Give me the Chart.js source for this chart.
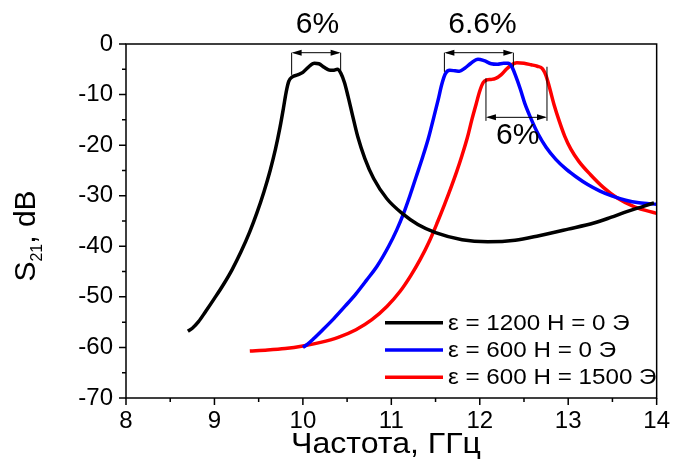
<!DOCTYPE html>
<html><head><meta charset="utf-8">
<script src="https://cdn.jsdelivr.net/npm/chart.js@4.4.1/dist/chart.umd.min.js"></script>
<style>html,body{margin:0;padding:0;background:#fff;}canvas{display:block;}</style>
</head><body>
<canvas id="c" width="679" height="459" style="width:679px;height:459px"></canvas>
<script>
// ---- data (frequency, GHz / S21, dB) ----
const blackX = [8.70, 8.75, 8.82, 8.90, 9.00, 9.10, 9.20, 9.30, 9.40, 9.48, 9.56, 9.63, 9.69, 9.74, 9.78, 9.81, 9.84, 9.88, 9.94, 10.00, 10.06, 10.13, 10.18, 10.24, 10.29, 10.34, 10.39, 10.43, 10.47, 10.51, 10.56, 10.62, 10.70, 10.80, 10.95, 11.13, 11.30, 11.50, 11.80, 12.09, 12.40, 12.67, 13.00, 13.29, 13.48, 13.67, 13.85, 13.97];
const blackY = [-56.8, -56.2, -54.9, -52.9, -50.3, -47.6, -44.6, -41.1, -37.1, -33.4, -29.2, -25.0, -20.8, -16.6, -12.7, -9.6, -7.4, -6.5, -6.1, -5.6, -4.6, -3.8, -3.9, -4.6, -5.1, -5.2, -5.0, -5.8, -7.6, -10.3, -14.0, -18.3, -22.6, -26.6, -30.6, -33.6, -35.7, -37.3, -38.7, -39.1, -38.8, -37.9, -36.6, -35.4, -34.3, -33.1, -32.1, -31.4];

const blueX = [10.00, 10.05, 10.12, 10.22, 10.35, 10.48, 10.60, 10.72, 10.84, 10.97, 11.06, 11.13, 11.21, 11.28, 11.35, 11.42, 11.48, 11.53, 11.57, 11.61, 11.66, 11.72, 11.77, 11.83, 11.90, 11.98, 12.05, 12.13, 12.20, 12.27, 12.32, 12.36, 12.41, 12.46, 12.51, 12.58, 12.66, 12.75, 12.86, 12.98, 13.10, 13.22, 13.36, 13.50, 13.65, 13.80, 14.00];
const blueY = [-60.0, -59.4, -58.3, -56.6, -54.3, -51.8, -49.4, -46.7, -43.9, -40.0, -36.8, -33.9, -30.0, -26.3, -22.6, -18.6, -14.5, -11.0, -8.0, -5.9, -5.2, -5.3, -5.4, -4.8, -3.8, -3.0, -3.3, -3.9, -4.0, -3.8, -3.8, -4.4, -6.5, -9.0, -11.8, -14.8, -17.8, -20.4, -22.8, -24.8, -26.4, -27.8, -29.1, -30.1, -30.9, -31.4, -31.7];

const redX = [9.40, 9.60, 9.80, 10.00, 10.20, 10.40, 10.60, 10.78, 10.95, 11.10, 11.22, 11.33, 11.43, 11.52, 11.60, 11.67, 11.74, 11.80, 11.86, 11.91, 11.96, 12.00, 12.04, 12.08, 12.13, 12.18, 12.24, 12.30, 12.36, 12.42, 12.50, 12.58, 12.65, 12.71, 12.75, 12.79, 12.84, 12.90, 12.96, 13.03, 13.12, 13.25, 13.40, 13.55, 13.75, 14.00];
const redY = [-60.7, -60.5, -60.2, -59.7, -59.0, -58.0, -56.5, -54.5, -51.9, -48.9, -45.8, -42.5, -39.0, -35.3, -31.8, -28.6, -25.2, -22.0, -18.5, -15.0, -11.8, -9.3, -7.6, -7.1, -7.0, -6.8, -6.1, -5.0, -4.1, -3.7, -3.8, -4.1, -4.4, -4.9, -6.3, -8.7, -12.0, -15.3, -18.2, -20.8, -23.2, -25.8, -28.4, -30.4, -32.2, -33.5];

const seriesLabels = ['ε = 1200 H = 0 Э', 'ε = 600 H = 0 Э', 'ε = 600 H = 1500 Э'];

// bandwidth brackets (in data units)
const bracketText   = ['6%', '6.6%', '6%'];
const bracketLeftX  = [9.873, 11.60, 12.07];
const bracketRightX = [10.427, 12.38, 12.76];
const bracketArrowY = [-1.72, -1.72, -14.5];
const bracketLeftSpan  = [[-1.72, -6.1], [-1.72, -5.5], [-6.8, -15.2]];
const bracketRightSpan = [[-1.72, -5.3], [-1.72, -4.5], [-4.5, -15.2]];
const bracketTextX  = [10.165, 12.03, 12.43];
const bracketTextY  = [2.1, 2.1, -19.8];

const xTitle = 'Частота, ГГц';

// ---- drawing ----
const FONT = '"Liberation Sans", Arial, sans-serif';
const colors = ['#000000', '#0000ff', '#ff0000'];
function pts(xs, ys) { return xs.map((x, i) => ({x: x, y: ys[i]})); }

function arrowHead(ctx, x, y, dir) {
  ctx.beginPath();
  ctx.moveTo(x, y);
  ctx.lineTo(x - dir * 10, y - 3);
  ctx.lineTo(x - dir * 10, y + 3);
  ctx.closePath();
  ctx.fill();
}
function stretchedText(ctx, txt, x, y, sxf) {
  ctx.save();
  ctx.translate(x, y);
  ctx.scale(sxf, 1);
  ctx.fillText(txt, 0, 0);
  ctx.restore();
}

const deco = {
  id: 'deco',
  afterDraw(chart) {
    const ctx = chart.ctx, sx = chart.scales.x, sy = chart.scales.y, a = chart.chartArea;
    ctx.save();
    ctx.strokeStyle = '#000'; ctx.fillStyle = '#000';
    // frame
    ctx.lineWidth = 1.5;
    ctx.strokeRect(a.left, a.top, a.right - a.left, a.bottom - a.top);
    // ticks
    ctx.beginPath();
    sx.ticks.forEach((t, i) => {
      const p = sx.getPixelForValue(t.value);
      ctx.moveTo(p, a.bottom); ctx.lineTo(p, a.bottom + 7);
      if (i < sx.ticks.length - 1) {
        const m = sx.getPixelForValue((t.value + sx.ticks[i + 1].value) / 2);
        ctx.moveTo(m, a.bottom); ctx.lineTo(m, a.bottom + 4);
      }
    });
    sy.ticks.forEach((t, i) => {
      const p = sy.getPixelForValue(t.value);
      ctx.moveTo(a.left, p); ctx.lineTo(a.left - 7, p);
      if (i < sy.ticks.length - 1) {
        const m = sy.getPixelForValue((t.value + sy.ticks[i + 1].value) / 2);
        ctx.moveTo(a.left, m); ctx.lineTo(a.left - 4, m);
      }
    });
    ctx.stroke();

    // brackets
    ctx.lineWidth = 1;
    for (let i = 0; i < bracketText.length; i++) {
      const xl = sx.getPixelForValue(bracketLeftX[i]);
      const xr = sx.getPixelForValue(bracketRightX[i]);
      const ya = sy.getPixelForValue(bracketArrowY[i]);
      ctx.beginPath();
      ctx.moveTo(xl, sy.getPixelForValue(bracketLeftSpan[i][0]));
      ctx.lineTo(xl, sy.getPixelForValue(bracketLeftSpan[i][1]));
      ctx.moveTo(xr, sy.getPixelForValue(bracketRightSpan[i][0]));
      ctx.lineTo(xr, sy.getPixelForValue(bracketRightSpan[i][1]));
      ctx.moveTo(xl + 2, ya); ctx.lineTo(xr - 2, ya);
      ctx.stroke();
      arrowHead(ctx, xl, ya, -1);
      arrowHead(ctx, xr, ya, 1);
      ctx.font = '30px ' + FONT;
      ctx.textAlign = 'center'; ctx.textBaseline = 'alphabetic';
      ctx.fillText(bracketText[i], sx.getPixelForValue(bracketTextX[i]), sy.getPixelForValue(bracketTextY[i]));
    }

    // legend
    const ds = chart.data.datasets;
    const rowY = [322.7, 350, 377.3];
    ds.forEach((d, i) => {
      ctx.strokeStyle = d.borderColor; ctx.lineWidth = 3.5;
      ctx.beginPath(); ctx.moveTo(385, rowY[i]); ctx.lineTo(443, rowY[i]); ctx.stroke();
      ctx.fillStyle = '#000';
      ctx.font = '22px ' + FONT;
      ctx.textAlign = 'left'; ctx.textBaseline = 'middle';
      stretchedText(ctx, d.label, 448, rowY[i] + 1, 1.1);
    });

    // x title
    ctx.fillStyle = '#000';
    ctx.font = '30px ' + FONT;
    ctx.textAlign = 'center'; ctx.textBaseline = 'alphabetic';
    stretchedText(ctx, xTitle, 386, 453, 1.07);

    // y title  S21, dB
    ctx.translate(35, 236);
    ctx.rotate(-Math.PI / 2);
    ctx.textAlign = 'left';
    const big = '30px ' + FONT, small = '16px ' + FONT;
    ctx.font = big; const w1 = ctx.measureText('S').width;
    ctx.font = small; const w2 = ctx.measureText('21').width;
    ctx.font = big; const w3 = ctx.measureText(', dB').width;
    let x0 = -(w1 + w2 + w3) / 2;
    ctx.font = big; ctx.fillText('S', x0, 0);
    ctx.font = small; ctx.fillText('21', x0 + w1, 7);
    ctx.font = big; ctx.fillText(', dB', x0 + w1 + w2, 0);
    ctx.restore();
  }
};

new Chart(document.getElementById('c'), {
  type: 'line',
  data: {
    datasets: [
      {label: seriesLabels[0], data: pts(blackX, blackY), borderColor: colors[0]},
      {label: seriesLabels[1], data: pts(blueX, blueY), borderColor: colors[1]},
      {label: seriesLabels[2], data: pts(redX, redY), borderColor: colors[2]}
    ].map(d => Object.assign(d, {borderWidth: 3.5, pointRadius: 0, fill: false, tension: 0.4, cubicInterpolationMode: 'monotone'}))
  },
  options: {
    responsive: false, animation: false, devicePixelRatio: 1,
    layout: {padding: {left: 0, top: 44, right: 18, bottom: 0}},
    plugins: {legend: {display: false}, tooltip: {enabled: false}},
    scales: {
      x: {
        type: 'linear', min: 8, max: 14,
        afterFit: s => { s.height = 61; },
        grid: {display: false, drawTicks: false}, border: {display: false},
        ticks: {stepSize: 1, color: '#000', padding: 9, font: {family: FONT, size: 24}, maxRotation: 0}
      },
      y: {
        type: 'linear', min: -70, max: 0,
        afterFit: s => { s.width = 126; },
        grid: {display: false, drawTicks: false}, border: {display: false},
        ticks: {stepSize: 10, color: '#000', padding: 13, font: {family: FONT, size: 24}}
      }
    }
  },
  plugins: [deco]
});
</script>
</body></html>
